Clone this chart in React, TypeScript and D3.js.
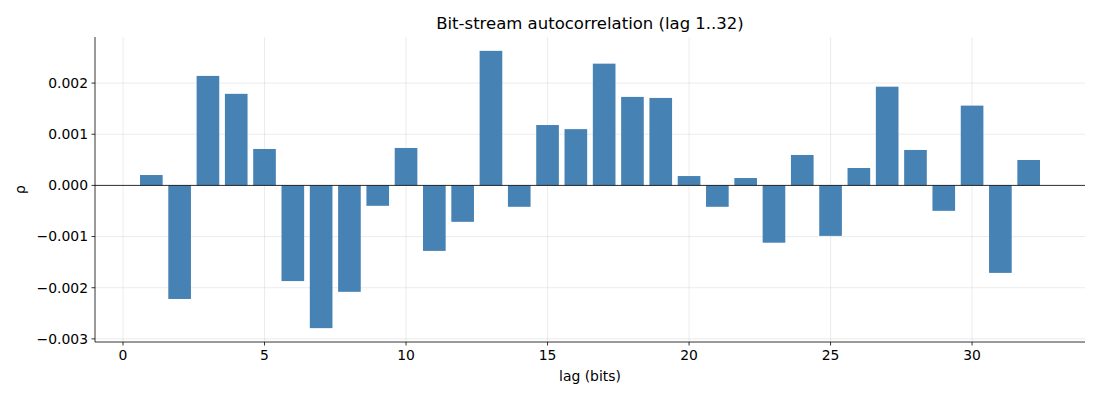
import React from 'react';
import * as d3 from 'd3';

const lags = d3.range(1, 33);
const rho = [
  0.000203, -0.00222, 0.00214, 0.00179, 0.000712, -0.00187, -0.00279, -0.00208,
  -0.000399, 0.000732, -0.00128, -0.000712, 0.00263, -0.000418, 0.00118, 0.0011,
  0.00238, 0.00173, 0.00171, 0.000183, -0.000418, 0.000144, -0.00112, 0.000595,
  -0.000987, 0.00034, 0.00193, 0.000693, -0.000497, 0.00156, -0.00171, 0.000497,
];
const xTicks = [0, 5, 10, 15, 20, 25, 30];
const yTicks = [-0.003, -0.002, -0.001, 0, 0.001, 0.002];

const W = 1100;
const H = 400;
const margin = { top: 37, right: 15, bottom: 58, left: 95 };
const FONT = 'DejaVu Sans, sans-serif';
const BAR_W = 0.8;

const App: React.FC = () => {
  const iw = W - margin.left - margin.right;
  const ih = H - margin.top - margin.bottom;

  // matplotlib-like 5% margins
  const xLo = lags[0] - BAR_W / 2;
  const xHi = lags[lags.length - 1] + BAR_W / 2;
  const xPad = (xHi - xLo) * 0.05;
  const x = d3.scaleLinear().domain([xLo - xPad, xHi + xPad]).range([0, iw]);

  const yMin = Math.min(0, d3.min(rho) as number);
  const yMax = Math.max(0, d3.max(rho) as number);
  const yPad = (yMax - yMin) * 0.05;
  const y = d3.scaleLinear().domain([yMin - yPad, yMax + yPad]).range([ih, 0]);

  return (
    <svg width={W} height={H} style={{ display: 'block', margin: '-8px', background: '#fff' }}>
      <text x={margin.left + iw / 2} y={29} textAnchor="middle" fontFamily={FONT} fontSize={16.5} fill="#000">
        Bit-stream autocorrelation (lag 1..32)
      </text>
      <g transform={`translate(${margin.left},${margin.top})`}>
        {xTicks.map(t => (
          <line key={`gx${t}`} x1={x(t)} x2={x(t)} y1={0} y2={ih} stroke="#b0b0b0" strokeOpacity={0.3} strokeWidth={0.8} />
        ))}
        {yTicks.map(t => (
          <line key={`gy${t}`} x1={0} x2={iw} y1={y(t)} y2={y(t)} stroke="#b0b0b0" strokeOpacity={0.3} strokeWidth={0.8} />
        ))}
        {lags.map((l, i) => {
          const v = rho[i];
          return (
            <rect
              key={l}
              x={x(l - BAR_W / 2)}
              width={x(l + BAR_W / 2) - x(l - BAR_W / 2)}
              y={y(Math.max(0, v))}
              height={Math.abs(y(v) - y(0))}
              fill="#4682b4"
            />
          );
        })}
        <line x1={0} x2={iw} y1={y(0)} y2={y(0)} stroke="#000" strokeWidth={0.8} />
        <line x1={0} x2={0} y1={0} y2={ih} stroke="#000" strokeWidth={0.8} />
        <line x1={0} x2={iw} y1={ih} y2={ih} stroke="#000" strokeWidth={0.8} />
        {xTicks.map(t => (
          <g key={`tx${t}`} transform={`translate(${x(t)},${ih})`}>
            <line y2={3.5} stroke="#000" strokeWidth={0.8} />
            <text y={17.5} textAnchor="middle" fontFamily={FONT} fontSize={13.9} fill="#000">{t}</text>
          </g>
        ))}
        {yTicks.map(t => (
          <g key={`ty${t}`} transform={`translate(0,${y(t)})`}>
            <line x2={-3.5} stroke="#000" strokeWidth={0.8} />
            <text x={-7} dy="0.35em" textAnchor="end" fontFamily={FONT} fontSize={13.9} fill="#000">
              {d3.format('.3f')(t).replace('-', '\u2212')}
            </text>
          </g>
        ))}
        <text x={iw / 2} y={ih + 39} textAnchor="middle" fontFamily={FONT} fontSize={13.9} fill="#000">lag (bits)</text>
        <text transform={`translate(${-70},${ih / 2}) rotate(-90)`} textAnchor="middle" fontFamily={FONT} fontSize={13.9} fill="#000">ρ</text>
      </g>
    </svg>
  );
};

export default App;
